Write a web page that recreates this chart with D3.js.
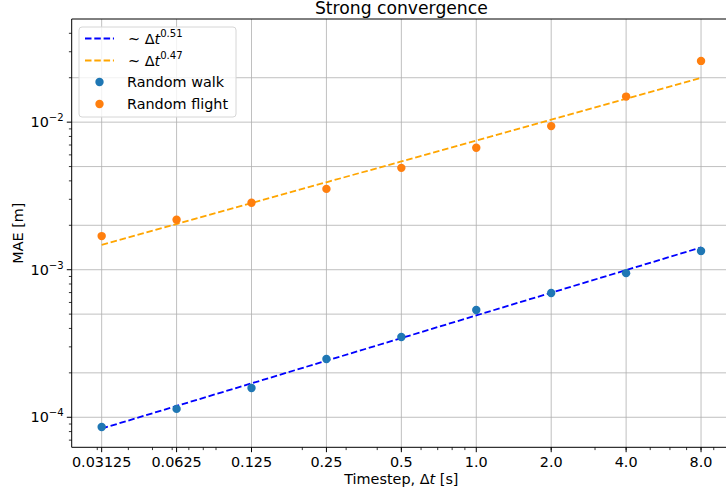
<!DOCTYPE html>
<html>
<head>
<meta charset="utf-8">
<script src="https://cdn.jsdelivr.net/npm/d3@7"></script>
<style>
  body { margin: 0; background: #fff; }
  svg { display: block; font-family: "DejaVu Sans", sans-serif; }
</style>
</head>
<body>
<script>
// timesteps (s)
var timesteps = [0.03125, 0.0625, 0.125, 0.25, 0.5, 1.0, 2.0, 4.0, 8.0];
var tickLabels = ["0.03125", "0.0625", "0.125", "0.25", "0.5", "1.0", "2.0", "4.0", "8.0"];

// measured MAE
var randomWalk = [8.6e-5, 1.14e-4, 1.58e-4, 2.48e-4, 3.5e-4, 5.33e-4, 6.95e-4, 9.48e-4, 1.34e-3];
var randomFlight = [1.69e-3, 2.18e-3, 2.84e-3, 3.53e-3, 4.9e-3, 6.7e-3, 9.4e-3, 1.49e-2, 2.6e-2];

// fitted power laws
var fitWalk = [8.38e-5, 1.193e-4, 1.698e-4, 2.417e-4, 3.44e-4, 4.90e-4, 6.98e-4, 9.94e-4, 1.416e-3];
var fitFlight = [1.472e-3, 2.039e-3, 2.825e-3, 3.914e-3, 5.42e-3, 7.51e-3, 1.040e-2, 1.441e-2, 1.995e-2];
var fitExponents = ["0.51", "0.47"];

var svgWidth = 726, svgHeight = 492;
var margin = {top: 19, left: 71.7, bottom: 44.7};
var plotRight = 731;
var plotBottom = svgHeight - margin.bottom;
var fontSize = "14.4px";

var svg = d3.select("body").append("svg")
    .attr("width", svgWidth)
    .attr("height", svgHeight);

var xScale = d3.scaleLog().base(2)
    .domain([0.03125 / Math.pow(2, 0.4), 8 * Math.pow(2, 0.4)])
    .range([margin.left, plotRight]);
var yScale = d3.scaleLog()
    .domain([6.26e-5, 0.05])
    .range([plotBottom, margin.top]);

var gridColor = "#b0b0b0";

// horizontal grid at 1,2,5 x 10^n
var yGrid = [];
[-5, -4, -3, -2, -1].forEach(function(e){
    [1, 2, 5].forEach(function(m){
        var v = m * Math.pow(10, e);
        if (v > yScale.domain()[0] && v < yScale.domain()[1]) yGrid.push(v);
    });
});
svg.append("g").selectAll("line")
    .data(yGrid).enter().append("line")
    .attr("x1", margin.left).attr("x2", plotRight)
    .attr("y1", function(d){ return yScale(d); })
    .attr("y2", function(d){ return yScale(d); })
    .attr("stroke", gridColor).attr("stroke-width", 0.8);

// vertical grid
svg.append("g").selectAll("line")
    .data(timesteps).enter().append("line")
    .attr("x1", function(d){ return xScale(d); })
    .attr("x2", function(d){ return xScale(d); })
    .attr("y1", margin.top).attr("y2", plotBottom)
    .attr("stroke", gridColor).attr("stroke-width", 0.8);

// fit lines
var line = d3.line()
    .x(function(d){ return xScale(d[0]); })
    .y(function(d){ return yScale(d[1]); });

svg.append("path")
    .datum(d3.zip(timesteps, fitWalk))
    .attr("d", line)
    .attr("fill", "none").attr("stroke", "#0000ff")
    .attr("stroke-width", 1.8).attr("stroke-dasharray", "6.5,2.8");
svg.append("path")
    .datum(d3.zip(timesteps, fitFlight))
    .attr("d", line)
    .attr("fill", "none").attr("stroke", "#ffa500")
    .attr("stroke-width", 1.8).attr("stroke-dasharray", "6.5,2.8");

// points
svg.append("g").selectAll("circle")
    .data(d3.zip(timesteps, randomWalk)).enter().append("circle")
    .attr("cx", function(d){ return xScale(d[0]); })
    .attr("cy", function(d){ return yScale(d[1]); })
    .attr("r", 4.2).attr("fill", "#1f77b4");
svg.append("g").selectAll("circle")
    .data(d3.zip(timesteps, randomFlight)).enter().append("circle")
    .attr("cx", function(d){ return xScale(d[0]); })
    .attr("cy", function(d){ return yScale(d[1]); })
    .attr("r", 4.2).attr("fill", "#ff7f0e");

// x axis
var xAxis = svg.append("g")
    .attr("transform", "translate(0," + plotBottom + ")");
xAxis.append("line")
    .attr("x1", margin.left).attr("x2", plotRight)
    .attr("stroke", "#000").attr("stroke-width", 1);
xAxis.selectAll(".major").data(timesteps).enter().append("line")
    .attr("x1", function(d){ return xScale(d); })
    .attr("x2", function(d){ return xScale(d); })
    .attr("y2", 4.9).attr("stroke", "#000").attr("stroke-width", 1);
var xMinor = [];
[-2, -1, 0].forEach(function(e){
    for (var m = 2; m <= 9; m++) {
        var v = m * Math.pow(10, e);
        if (v > xScale.domain()[0] && v < xScale.domain()[1]) xMinor.push(v);
    }
});
xAxis.selectAll(".minor").data(xMinor).enter().append("line")
    .attr("x1", function(d){ return xScale(d); })
    .attr("x2", function(d){ return xScale(d); })
    .attr("y2", 2.8).attr("stroke", "#000").attr("stroke-width", 0.8);
xAxis.selectAll("text").data(timesteps).enter().append("text")
    .attr("x", function(d){ return xScale(d); })
    .attr("y", 19.5)
    .attr("text-anchor", "middle")
    .attr("font-size", fontSize)
    .text(function(d, i){ return tickLabels[i]; });

var xLabel = svg.append("text")
    .attr("x", (margin.left + plotRight) / 2)
    .attr("y", 483.5)
    .attr("text-anchor", "middle")
    .attr("font-size", fontSize);
xLabel.append("tspan").text("Timestep, Δ");
xLabel.append("tspan").attr("font-style", "italic").text("t");
xLabel.append("tspan").text(" [s]");

// y axis
var yAxis = svg.append("g")
    .attr("transform", "translate(" + margin.left + ",0)");
yAxis.append("line")
    .attr("y1", margin.top).attr("y2", plotBottom)
    .attr("stroke", "#000").attr("stroke-width", 1);
var yMajor = [1e-4, 1e-3, 1e-2];
var yMinor = [];
[-5, -4, -3, -2].forEach(function(e){
    for (var m = 2; m <= 9; m++) {
        var v = m * Math.pow(10, e);
        if (v > yScale.domain()[0] && v < yScale.domain()[1]) yMinor.push(v);
    }
});
yAxis.selectAll(".major").data(yMajor).enter().append("line")
    .attr("y1", function(d){ return yScale(d); })
    .attr("y2", function(d){ return yScale(d); })
    .attr("x2", -4.9).attr("stroke", "#000").attr("stroke-width", 1);
yAxis.selectAll(".minor").data(yMinor).enter().append("line")
    .attr("y1", function(d){ return yScale(d); })
    .attr("y2", function(d){ return yScale(d); })
    .attr("x2", -2.8).attr("stroke", "#000").attr("stroke-width", 0.8);
var yTick = yAxis.selectAll("text").data(yMajor).enter().append("text")
    .attr("x", -8)
    .attr("y", function(d){ return yScale(d) + 5; })
    .attr("text-anchor", "end")
    .attr("font-size", fontSize);
yTick.append("tspan").text("10");
yTick.append("tspan").attr("dy", -6).attr("font-size", "10.1px")
    .text(function(d){ return "\u2212" + Math.round(-Math.log10(d)); });

svg.append("line")
    .attr("x1", margin.left).attr("x2", plotRight)
    .attr("y1", margin.top).attr("y2", margin.top)
    .attr("stroke", "#000").attr("stroke-width", 1);

svg.append("text")
    .attr("transform", "translate(23," + ((margin.top + plotBottom) / 2) + ") rotate(-90)")
    .attr("text-anchor", "middle")
    .attr("font-size", fontSize)
    .text("MAE [m]");

// title
svg.append("text")
    .attr("x", (margin.left + plotRight) / 2)
    .attr("y", 14)
    .attr("text-anchor", "middle")
    .attr("font-size", "17.2px")
    .text("Strong convergence");

// legend
var legend = svg.append("g").attr("transform", "translate(79,27)");
legend.append("rect")
    .attr("width", 157).attr("height", 90)
    .attr("rx", 3)
    .attr("fill", "#fff").attr("fill-opacity", 0.8)
    .attr("stroke", "#d6d6d6").attr("stroke-width", 1);

var lineColors = ["#0000ff", "#ffa500"];
var rowY = [11.5, 33.5, 55, 77];
fitExponents.forEach(function(ex, i){
    legend.append("line")
        .attr("x1", 6).attr("x2", 35)
        .attr("y1", rowY[i]).attr("y2", rowY[i])
        .attr("stroke", lineColors[i]).attr("stroke-width", 1.8)
        .attr("stroke-dasharray", "6.5,2.8");
    var t = legend.append("text")
        .attr("x", 49).attr("y", rowY[i] + 5)
        .attr("font-size", fontSize);
    t.append("tspan").text("~ Δ");
    t.append("tspan").attr("font-style", "italic").text("t");
    t.append("tspan").attr("dy", -7).attr("font-size", "10.1px").text(ex);
});
var pointNames = ["Random walk", "Random flight"];
var pointColors = ["#1f77b4", "#ff7f0e"];
pointNames.forEach(function(name, i){
    legend.append("circle")
        .attr("cx", 20.5).attr("cy", rowY[i + 2])
        .attr("r", 4.2).attr("fill", pointColors[i]);
    legend.append("text")
        .attr("x", 48).attr("y", rowY[i + 2] + 5)
        .attr("font-size", fontSize)
        .text(name);
});
</script>
</body>
</html>
